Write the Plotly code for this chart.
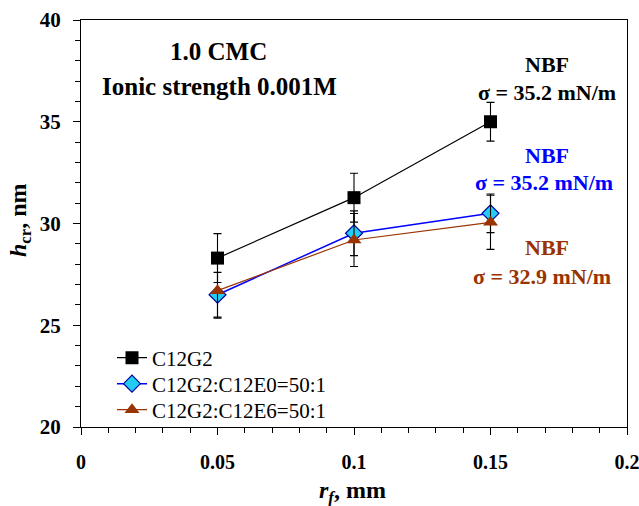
import plotly.graph_objects as go

x = [0.05, 0.1, 0.15]
c12g2 = [28.3, 31.27, 35.0]
c12g2_err = [1.2, 1.2, 0.95]
c12e0 = [26.5, 29.52, 30.5]
c12e0_err = [1.1, 1.1, 0.95]
c12e6 = [26.7, 29.19, 30.06]
c12e6_err = [1.35, 1.3, 1.33]

FONT = "Liberation Serif"
BROWN = "#993300"

fig = go.Figure()

def err(v):
    return dict(type="data", array=v, visible=True, color="black", thickness=1.1, width=4)

fig.add_trace(go.Scatter(x=x, y=c12g2, mode="lines+markers", name="C12G2",
    line=dict(color="black", width=1.2),
    marker=dict(symbol="square", size=13, color="black"),
    error_y=err(c12g2_err), legend="legend"))
fig.add_trace(go.Scatter(x=x, y=c12e0, mode="lines+markers", name="C12G2:C12E0=50:1",
    line=dict(color="#0000FF", width=1.5),
    marker=dict(symbol="diamond", size=13, color="#22CCF5", line=dict(color="#000099", width=1.2)),
    error_y=err(c12e0_err), legend="legend2"))
fig.add_trace(go.Scatter(x=x, y=c12e6, mode="lines+markers", name="C12G2:C12E6=50:1",
    line=dict(color=BROWN, width=1.2),
    marker=dict(symbol="triangle-up", size=13, color=BROWN),
    error_y=err(c12e6_err), legend="legend3"))

W, H = 639, 506
pl, pr, pt, pb = 81, 12, 20, 79
pw, ph = W - pl - pr, H - pt - pb

anns = [
    dict(x=218, y=51, text="<b>1.0 CMC</b>", color="black", size=25),
    dict(x=219, y=86, text="<b>Ionic strength 0.001M</b>", color="black", size=25),
    dict(x=547, y=65, text="<b>NBF</b>", color="black", size=22),
    dict(x=547, y=92, text="<b>σ = 35.2 mN/m</b>", color="black", size=22),
    dict(x=547, y=155, text="<b>NBF</b>", color="#0000FF", size=22),
    dict(x=544, y=183, text="<b>σ = 35.2 mN/m</b>", color="#0000FF", size=22),
    dict(x=547, y=247, text="<b>NBF</b>", color=BROWN, size=22),
    dict(x=542, y=276, text="<b>σ = 32.9 mN/m</b>", color=BROWN, size=22),
]
annotations = []
for a in anns:
    annotations.append(dict(x=(a["x"] - pl) / pw, y=1 - (a["y"] - pt) / ph,
        xref="paper", yref="paper", text=a["text"], showarrow=False,
        xanchor="center", yanchor="middle",
        font=dict(family=FONT, size=a["size"], color=a["color"])))
annotations.append(dict(x=(20 - pl) / pw, y=1 - (220 - pt) / ph, xref="paper", yref="paper",
    text="<b><i>h</i></b><sub><b>cr</b></sub><b>, nm</b>", showarrow=False, textangle=-90,
    xanchor="center", yanchor="middle", font=dict(family=FONT, size=24, color="black")))
annotations.append(dict(x=(352 - pl) / pw, y=1 - (492 - pt) / ph, xref="paper", yref="paper",
    text="<b><i>r</i></b><sub><b><i>f</i></b></sub><b>, mm</b>", showarrow=False,
    xanchor="center", yanchor="middle", font=dict(family=FONT, size=24, color="black")))

def leg(yc):
    return dict(x=(112 - pl) / pw, y=1 - (yc - pt) / ph, xanchor="left", yanchor="middle",
                bgcolor="rgba(0,0,0,0)", font=dict(family=FONT, size=21, color="black"))

fig.update_layout(
    width=W, height=H,
    margin=dict(l=pl, r=pr, t=pt, b=pb, autoexpand=False),
    paper_bgcolor="white", plot_bgcolor="white",
    font=dict(family=FONT, color="black"),
    showlegend=True,
    legend=leg(358), legend2=leg(384), legend3=leg(410),
    annotations=annotations,
)

fig.update_xaxes(range=[0, 0.2], tickvals=[0, 0.05, 0.1, 0.15, 0.2],
    ticktext=["<b>0</b>", "<b>0.05</b>", "<b>0.1</b>", "<b>0.15</b>", "<b>0.2</b>"],
    ticks="outside", ticklen=7, tickcolor="black", tickwidth=1, automargin=False,
    ticklabeloverflow="allow",
    minor=dict(dtick=0.01, ticks="outside", ticklen=5, tickcolor="black", showgrid=False),
    showline=True, linecolor="black", linewidth=1, mirror=True, showgrid=False, zeroline=False,
    tickfont=dict(family=FONT, size=20, color="black"), ticklabelstandoff=10)
fig.update_yaxes(range=[20, 40], tickvals=[20, 25, 30, 35, 40],
    ticktext=["<b>20</b>", "<b>25</b>", "<b>30</b>", "<b>35</b>", "<b>40</b>"],
    ticks="outside", ticklen=7, tickcolor="black", tickwidth=1, automargin=False,
    ticklabeloverflow="allow",
    minor=dict(dtick=1, ticks="outside", ticklen=5, tickcolor="black", showgrid=False),
    showline=True, linecolor="black", linewidth=1, mirror=True, showgrid=False, zeroline=False,
    tickfont=dict(family=FONT, size=21, color="black"), ticklabelstandoff=8)

fig.write_html("out.html")
